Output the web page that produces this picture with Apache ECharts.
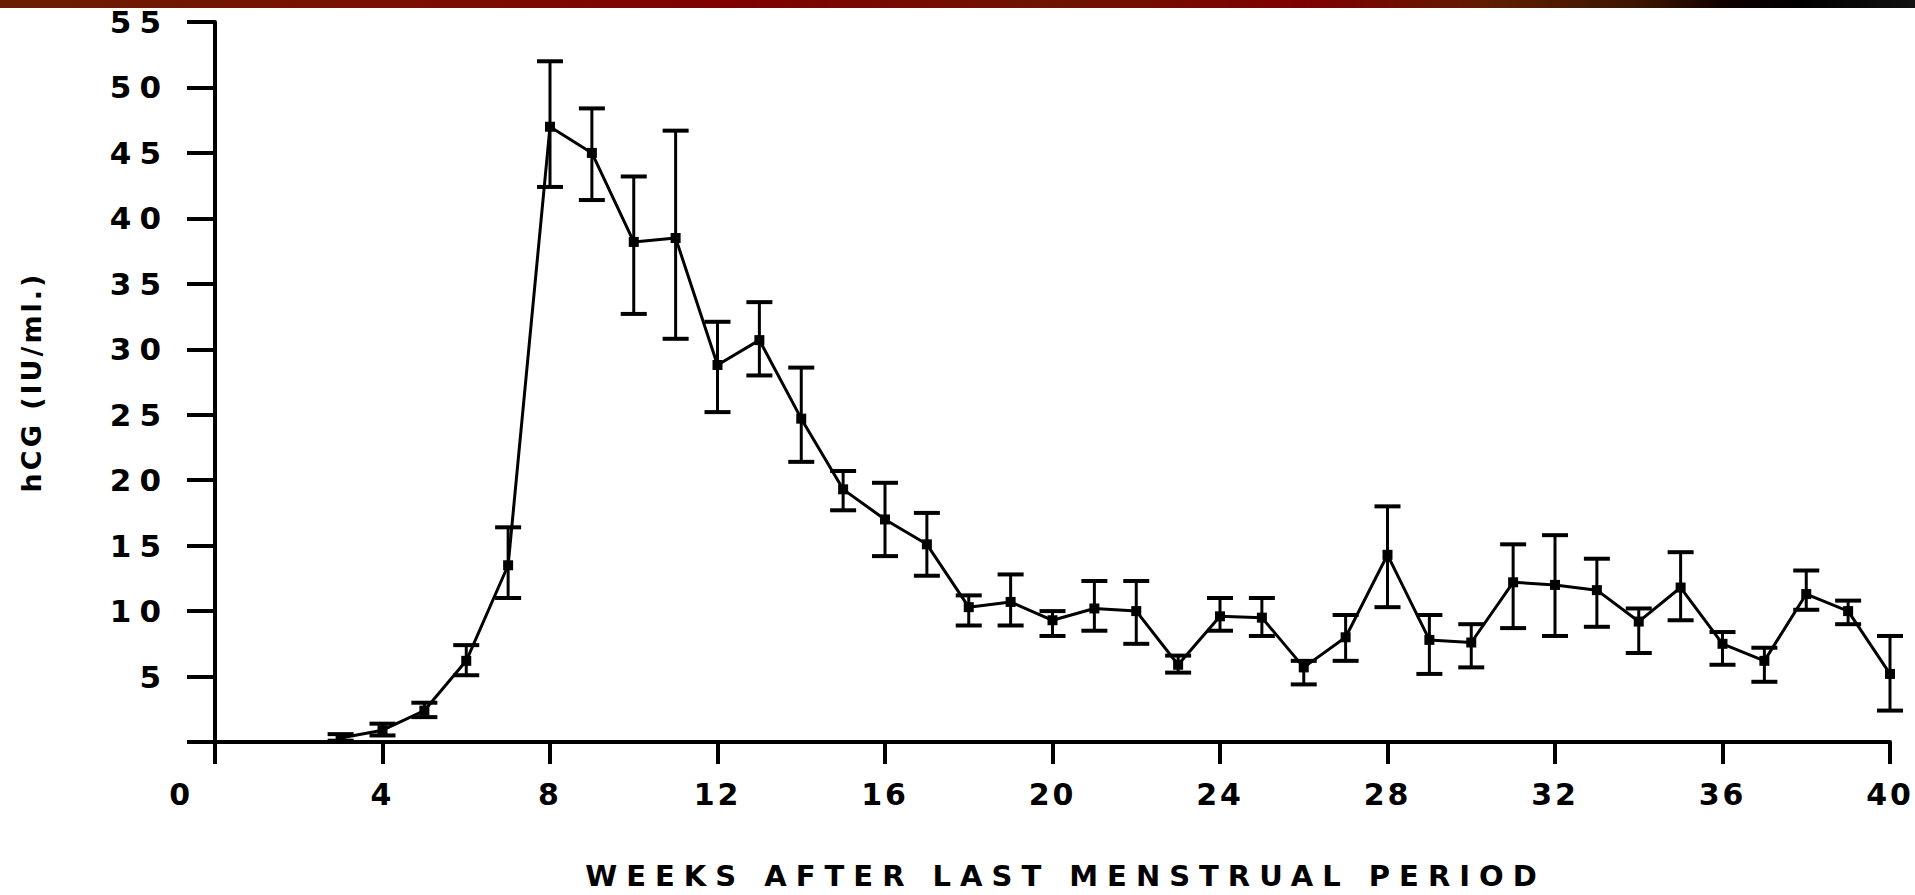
<!DOCTYPE html>
<html>
<head>
<meta charset="utf-8">
<script src="https://cdn.jsdelivr.net/npm/echarts@6/dist/echarts.min.js"></script>
<style>
  html, body { margin: 0; padding: 0; background: #fff; }
  #chart { width: 1915px; height: 895px; }
  /* wide, spaced lettering like the scanned figure; sizes pick the rule */
  #chart text { letter-spacing: 8px; }
  #chart text[style*="29px"] { letter-spacing: 9px; }
  #chart text[style*="30px"] { letter-spacing: 3px; }
  #chart text[style*="31px"] { letter-spacing: 8px; }
  #chart text[style*="27px"] { letter-spacing: 3px; }
</style>
</head>
<body>
<div id="chart"></div>
<script>
// weeks after last menstrual period
const weeks = [3, 4, 5, 6, 7, 8, 9, 10, 11, 12, 13, 14, 15, 16, 17, 18, 19, 20, 21,
  22, 23, 24, 25, 26, 27, 28, 29, 30, 31, 32, 33, 34, 35, 36, 37, 38, 39, 40];
// mean hCG (IU/ml)
const hcgMean = [0.3, 0.9, 2.4, 6.2, 13.5, 47.0, 45.0, 38.2, 38.5, 28.8, 30.7, 24.7, 19.3,
  17.0, 15.1, 10.3, 10.7, 9.3, 10.2, 10.0, 5.9, 9.6, 9.5, 5.7, 8.0, 14.3, 7.8, 7.6,
  12.2, 12.0, 11.6, 9.2, 11.8, 7.5, 6.2, 11.3, 10.0, 5.2];
// error bar ends
const hcgLow = [0.1, 0.5, 1.9, 5.1, 11.0, 42.4, 41.4, 32.7, 30.8, 25.2, 28.0, 21.4, 17.7,
  14.2, 12.7, 8.9, 8.9, 8.1, 8.5, 7.5, 5.3, 8.5, 8.1, 4.4, 6.2, 10.3, 5.2, 5.7,
  8.7, 8.1, 8.8, 6.8, 9.3, 5.9, 4.6, 10.1, 9.0, 2.4];
const hcgHigh = [0.6, 1.4, 3.0, 7.4, 16.4, 52.0, 48.4, 43.2, 46.7, 32.1, 33.6, 28.6, 20.7,
  19.8, 17.5, 11.2, 12.8, 10.0, 12.3, 12.3, 6.6, 11.0, 11.0, 6.2, 9.7, 18.0, 9.7, 9.0,
  15.1, 15.8, 14.0, 10.2, 14.5, 8.4, 7.2, 13.1, 10.8, 8.1];

const lineData = weeks.map((w, i) => [w, hcgMean[i]]);
const barData = weeks.map((w, i) => [w, hcgLow[i], hcgHigh[i]]);

const FONT = "'DejaVu Sans', sans-serif";

const chart = echarts.init(document.getElementById("chart"), null, { renderer: "svg" });

const option = {
  backgroundColor: "#fff",
  animation: false,
  graphic: [
    {
      type: "rect",
      left: 0,
      top: 0,
      shape: { width: 1915, height: 8 },
      style: {
        fill: {
          type: "linear", x: 0, y: 0, x2: 1, y2: 0,
          colorStops: [
            { offset: 0, color: "#6a1e00" },
            { offset: 0.2, color: "#7a1000" },
            { offset: 0.38, color: "#800000" },
            { offset: 0.55, color: "#6e1500" },
            { offset: 0.68, color: "#800000" },
            { offset: 0.78, color: "#5e1e00" },
            { offset: 0.86, color: "#3a1400" },
            { offset: 0.9, color: "#100000" },
            { offset: 0.94, color: "#000" },
            { offset: 1, color: "#121212" },
          ],
        },
      },
      z: 100,
    },
  ],
  grid: { left: 215, right: 25, top: 22, bottom: 150 },
  xAxis: {
    type: "value",
    min: 0,
    max: 40,
    interval: 4,
    name: "WEEKS AFTER LAST MENSTRUAL PERIOD",
    nameLocation: "middle",
    nameGap: 119,
    nameTextStyle: {
      fontFamily: FONT, fontWeight: "bold", fontSize: 29, color: "#000",
      padding: [0, 0, 0, 26],
    },
    axisLine: { lineStyle: { color: "#000", width: 4 } },
    axisTick: { length: 22, lineStyle: { color: "#000", width: 4 } },
    axisLabel: {
      margin: 37,
      alignMinLabel: "right",
      formatter: (v) => (v === 0 ? "{z|0}" : String(v)),
      rich: {
        z: { fontFamily: FONT, fontWeight: "bold", fontSize: 30, color: "#000", padding: [0, 22, 0, 0] },
      },
      fontFamily: FONT, fontWeight: "bold", fontSize: 30, color: "#000",
    },
    splitLine: { show: false },
  },
  yAxis: {
    type: "value",
    min: 0,
    max: 55,
    interval: 5,
    name: "hCG (IU/ml.)",
    nameLocation: "middle",
    nameGap: 170,
    nameTextStyle: { fontFamily: FONT, fontWeight: "bold", fontSize: 27, color: "#000" },
    axisLine: { show: true, lineStyle: { color: "#000", width: 4 } },
    axisTick: { show: true, length: 28, lineStyle: { color: "#000", width: 4 } },
    axisLabel: {
      margin: 46,
      formatter: (v) => (v === 0 ? "" : String(v)),
      fontFamily: FONT, fontWeight: "bold", fontSize: 31, color: "#000",
    },
    splitLine: { show: false },
  },
  series: [
    {
      type: "custom",
      name: "range",
      data: barData,
      encode: { x: 0, y: [1, 2] },
      renderItem: (params, api) => {
        const x = api.value(0);
        const lo = api.coord([x, api.value(1)]);
        const hi = api.coord([x, api.value(2)]);
        const half = 13;
        const st = { stroke: "#000", lineWidth: 3 };
        const cap = { stroke: "#000", lineWidth: 4 };
        return {
          type: "group",
          children: [
            { type: "line", shape: { x1: lo[0], y1: lo[1], x2: hi[0], y2: hi[1] }, style: st },
            { type: "line", shape: { x1: hi[0] - half, y1: hi[1], x2: hi[0] + half, y2: hi[1] }, style: cap },
            { type: "line", shape: { x1: lo[0] - half, y1: lo[1], x2: lo[0] + half, y2: lo[1] }, style: cap },
          ],
        };
      },
      z: 3,
    },
    {
      type: "line",
      name: "hCG",
      data: lineData,
      symbol: "rect",
      symbolSize: 10,
      lineStyle: { color: "#000", width: 3 },
      itemStyle: { color: "#000" },
      z: 4,
    },
  ],
};

chart.setOption(option);
</script>
</body>
</html>
